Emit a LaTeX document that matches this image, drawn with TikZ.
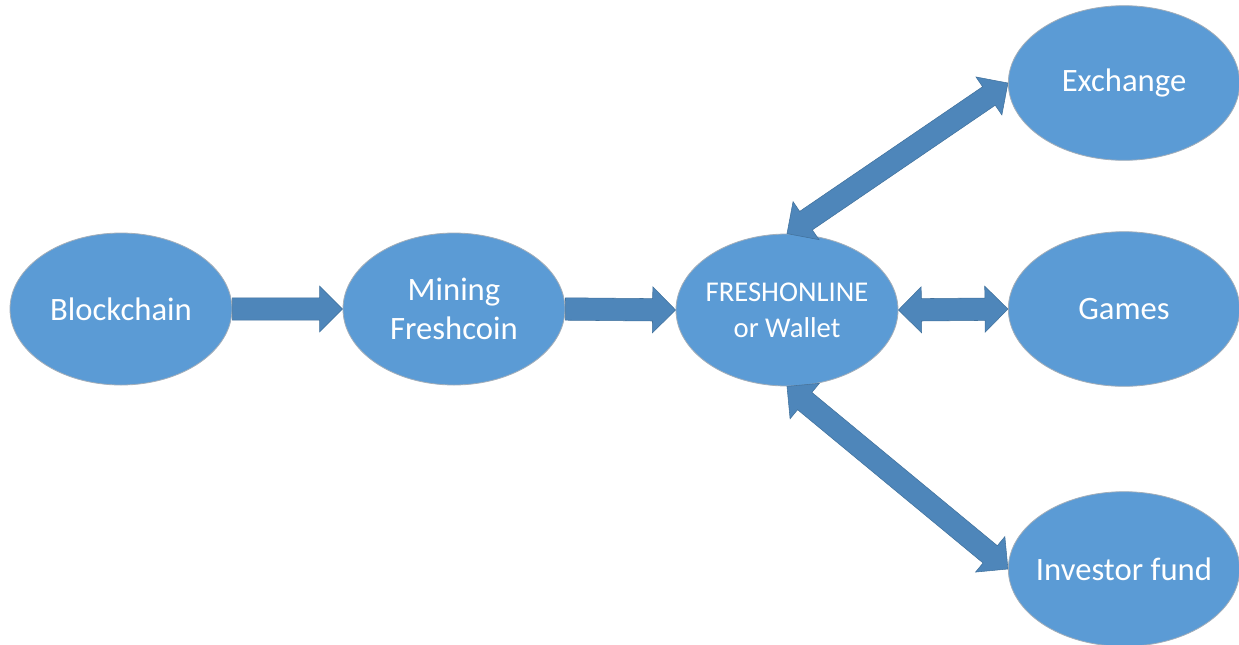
\documentclass[tikz,border=0pt]{standalone}
\usepackage{fontspec}
\setmainfont{Carlito}
\usetikzlibrary{shapes.geometric,calc}
\definecolor{ellfill}{HTML}{5B9BD5}
\definecolor{ellline}{HTML}{A3AEB9}
\definecolor{arrfill}{HTML}{4E86BA}
\definecolor{arrline}{HTML}{41719C}
\tikzset{
  bubble/.style={ellipse, fill=ellfill, draw=ellline, line width=0.6pt, inner sep=-40pt,
    minimum width=166.5pt, minimum height=114pt, text=white, align=center,
    font=\fontsize{24.5}{29}\selectfont},
  bigbubble/.style={bubble, minimum width=173.5pt, minimum height=116pt},
  blockarrow/.style={fill=arrfill, draw=arrline, line width=0.4pt, line join=miter}
}
% single-headed block arrow from #1 to #2
\newcommand\sarrow[2]{%
  \path[blockarrow] let \p1=(#1), \p2=(#2),
    \n1={atan2(\y2-\y1,\x2-\x1)}, \n2={veclen(\x2-\x1,\y2-\y1)} in
    [shift={(\p1)}, rotate=\n1]
    (0pt,-8.4pt) -- ({\n2-17.25pt},-8.4pt) -- ({\n2-17.25pt},-17.25pt)
    -- ({\n2*1pt},0pt) -- ({\n2-17.25pt},17.25pt) -- ({\n2-17.25pt},8.4pt)
    -- (0pt,8.4pt) -- cycle;}
% double-headed block arrow between #1 and #2
\newcommand\darrow[2]{%
  \path[blockarrow] let \p1=(#1), \p2=(#2),
    \n1={atan2(\y2-\y1,\x2-\x1)}, \n2={veclen(\x2-\x1,\y2-\y1)} in
    [shift={(\p1)}, rotate=\n1]
    (17.25pt,-8.4pt) -- ({\n2-17.25pt},-8.4pt) -- ({\n2-17.25pt},-17.25pt)
    -- ({\n2*1pt},0pt) -- ({\n2-17.25pt},17.25pt) -- ({\n2-17.25pt},8.4pt)
    -- (17.25pt,8.4pt) -- (17.25pt,17.25pt) -- (0pt,0pt)
    -- (17.25pt,-17.25pt) -- cycle;}
\begin{document}
\begin{tikzpicture}[x=0.75pt,y=-0.75pt]
\useasboundingbox (0,0) rectangle (1239,644);
\node[bubble] (blk) at (121,309) {Blockchain};
\node[bubble] (mine) at (454,309) {Mining\\Freshcoin};
\node[bubble, font=\fontsize{21.5}{27}\selectfont] (fresh) at (787,310) {FRESHONLINE\\or Wallet};
\node[bigbubble] (exch) at (1124,83) {Exchange};
\node[bigbubble] (games) at (1124,309) {Games};
\node[bigbubble] (inv) at (1124,569) {Investor fund};
\sarrow{blk.east}{mine.west}
\sarrow{mine.east}{fresh.west}
\darrow{fresh.east}{games.west}
\darrow{fresh.north}{exch.west}
\darrow{fresh.south}{inv.west}
\end{tikzpicture}
\end{document}
